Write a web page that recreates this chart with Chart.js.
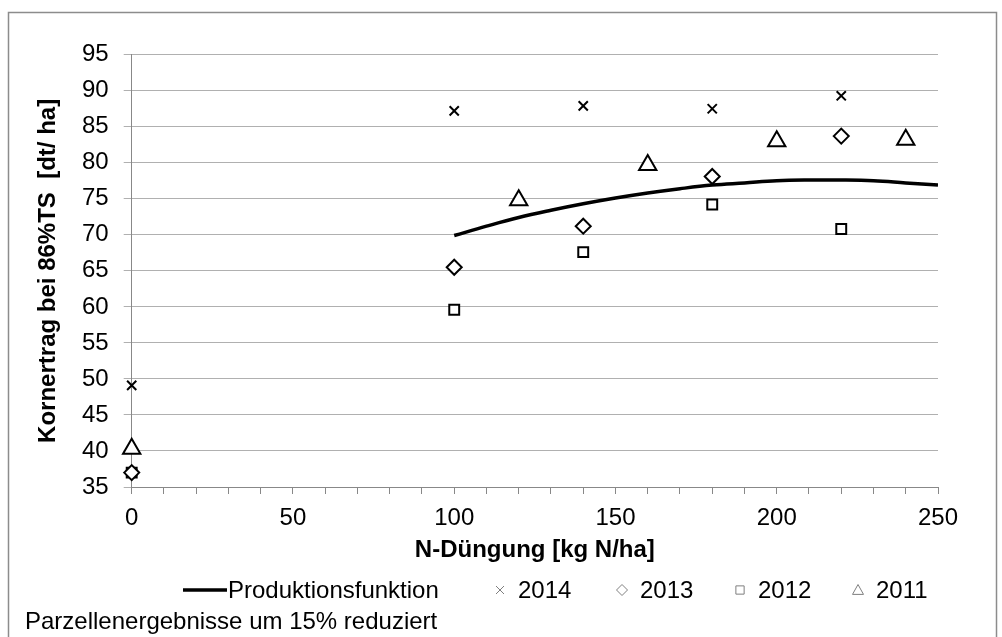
<!DOCTYPE html>
<html>
<head>
<meta charset="utf-8">
<script src="https://cdn.jsdelivr.net/npm/chart.js@4.4.0/dist/chart.umd.min.js"></script>
<style>
  html, body { margin: 0; padding: 0; background: #fff; }
  #wrap { position: relative; width: 1002px; height: 637px; }
</style>
</head>
<body>
<div id="wrap"><canvas id="chart" width="1002" height="637"></canvas></div>
<script>
// values
const x2014 = [0, 100, 140, 180, 220];
const y2014 = [49.1, 87.2, 87.9, 87.5, 89.3];
const x2013 = [0, 100, 140, 180, 220];
const y2013 = [37.0, 65.5, 71.2, 78.1, 83.7];
const x2012 = [0, 100, 140, 180, 220];
const y2012 = [37.0, 59.6, 67.6, 74.2, 70.8];
const x2011 = [0, 120, 160, 200, 240];
const y2011 = [40.3, 74.8, 79.7, 83.0, 83.2];

// Produktionsfunktion, read every 10 kg N/ha
const xProd = [100, 110, 120, 130, 140, 150, 160, 170, 180, 190, 200, 210, 220, 230, 240, 250];
const yProd = [69.9, 71.2, 72.4, 73.4, 74.3, 75.1, 75.8, 76.4, 76.9, 77.2, 77.5, 77.6, 77.6, 77.5, 77.2, 76.9];

const xTickLabels = [0, 50, 100, 150, 200, 250];
const yMin = 35, yMax = 95, yStep = 5;

const seriesNames = ['Produktionsfunktion', '2014', '2013', '2012', '2011'];
const footnote = 'Parzellenergebnisse um 15% reduziert';

const FONT = '"Liberation Sans", Arial, sans-serif';
Chart.defaults.font.family = FONT;
Chart.defaults.color = '#000';

const toPoints = (xs, ys) => xs.map((x, i) => ({ x: x, y: ys[i] }));

// small grey marker shapes for the legend
function drawMarker(ctx, shape, x, y, r) {
    ctx.beginPath();
    if (shape === 'cross') {
        ctx.moveTo(x - r, y - r); ctx.lineTo(x + r, y + r);
        ctx.moveTo(x + r, y - r); ctx.lineTo(x - r, y + r);
    } else if (shape === 'diamond') {
        ctx.moveTo(x, y - r); ctx.lineTo(x + r, y); ctx.lineTo(x, y + r); ctx.lineTo(x - r, y); ctx.closePath();
    } else if (shape === 'square') {
        ctx.rect(x - r * 0.75, y - r * 0.75, r * 1.5, r * 1.5);
    } else if (shape === 'triangle') {
        ctx.moveTo(x, y - r); ctx.lineTo(x + r, y + r * 0.8); ctx.lineTo(x - r, y + r * 0.8); ctx.closePath();
    }
    ctx.stroke();
}

// legend slots: [marker centre or line start, text start]
const legendSlots = [[183, 228], [500, 518], [622, 640], [740, 758], [858, 876]];

const frameAndLegend = {
    id: 'frameAndLegend',
    afterDraw(chart) {
        const ctx = chart.ctx;
        ctx.save();
        // outer frame
        ctx.strokeStyle = '#8c8c8c';
        ctx.lineWidth = 1.5;
        ctx.strokeRect(8.5, 12.5, 988, 700);

        // legend row
        ctx.font = '24px ' + FONT;
        ctx.textBaseline = 'middle';
        ctx.fillStyle = '#000';
        const cy = 590;
        const shapes = [null, 'cross', 'diamond', 'square', 'triangle'];
        seriesNames.forEach((name, i) => {
            const [mx, tx] = legendSlots[i];
            if (!shapes[i]) {
                ctx.strokeStyle = '#000';
                ctx.lineWidth = 3.5;
                ctx.beginPath();
                ctx.moveTo(mx, cy); ctx.lineTo(tx - 1, cy);
                ctx.stroke();
            } else {
                ctx.strokeStyle = '#7f7f7f';
                ctx.lineWidth = 1;
                drawMarker(ctx, shapes[i], mx, cy, shapes[i] === 'cross' ? 4 : 5.5);
            }
            ctx.fillText(name, tx, cy + 1);
        });

        // footnote
        ctx.fillText(footnote, 25, 622);
        ctx.restore();
    }
};

const markerBase = {
    showLine: false,
    borderColor: '#000',
    backgroundColor: '#fff',
    pointBorderWidth: 2,
    pointHoverRadius: 8,
    clip: false
};

new Chart(document.getElementById('chart'), {
    type: 'scatter',
    data: {
        datasets: [
            {
                label: seriesNames[0],
                data: toPoints(xProd, yProd),
                showLine: true,
                borderColor: '#000',
                borderWidth: 3.5,
                pointRadius: 0,
                tension: 0.4,
                fill: false,
                order: 0
            },
            Object.assign({}, markerBase, {
                label: seriesNames[1],
                data: toPoints(x2014, y2014),
                pointStyle: 'crossRot',
                pointRadius: 6.5,
                order: 1
            }),
            Object.assign({}, markerBase, {
                label: seriesNames[2],
                data: toPoints(x2013, y2013),
                pointStyle: 'rectRot',
                pointRadius: 7.5,
                order: 2
            }),
            Object.assign({}, markerBase, {
                label: seriesNames[3],
                data: toPoints(x2012, y2012),
                pointStyle: 'rect',
                pointRadius: 7,
                order: 3
            }),
            Object.assign({}, markerBase, {
                label: seriesNames[4],
                data: toPoints(x2011, y2011),
                pointStyle: 'triangle',
                pointRadius: 10,
                order: 4
            })
        ]
    },
    options: {
        responsive: false,
        animation: false,
        layout: {
            padding: { left: 0, top: 54.7, right: 64, bottom: 70 }
        },
        plugins: {
            legend: { display: false },
            tooltip: { enabled: false }
        },
        scales: {
            x: {
                type: 'linear',
                min: 0,
                max: 250,
                afterFit: (scale) => { scale.height = 80; },
                ticks: {
                    stepSize: 10,
                    autoSkip: false,
                    maxRotation: 0,
                    padding: 10,
                    font: { size: 24 },
                    color: '#000',
                    callback: (v) => xTickLabels.includes(v) ? String(v) : ''
                },
                grid: {
                    drawOnChartArea: false,
                    drawTicks: true,
                    tickLength: 7,
                    color: '#888'
                },
                border: { color: '#888', width: 1 },
                title: {
                    display: true,
                    text: 'N-Düngung [kg N/ha]',
                    font: { size: 24, weight: 'bold' },
                    color: '#000',
                    padding: { top: 0, bottom: 2 }
                }
            },
            y: {
                min: yMin,
                max: yMax,
                afterFit: (scale) => { scale.width = 131.7; },
                ticks: {
                    stepSize: yStep,
                    padding: 15,
                    font: { size: 24 },
                    color: '#000'
                },
                grid: {
                    color: '#b0b0b0',
                    tickLength: 8
                },
                border: { color: '#888', width: 1 },
                title: {
                    display: true,
                    text: 'Kornertrag bei 86%TS  [dt/ ha]',
                    font: { size: 24, weight: 'bold' },
                    color: '#000',
                    padding: { top: 33.6, bottom: 0 }
                }
            }
        }
    },
    plugins: [frameAndLegend]
});
</script>
</body>
</html>
